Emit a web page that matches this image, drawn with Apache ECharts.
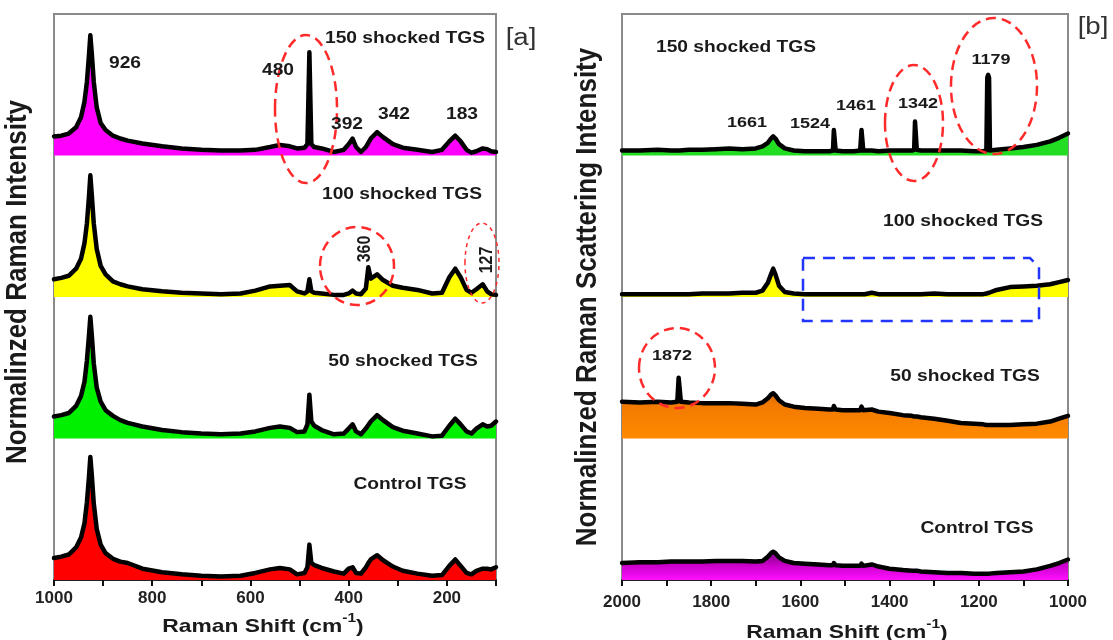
<!DOCTYPE html>
<html><head><meta charset="utf-8">
<script src="https://cdn.jsdelivr.net/npm/echarts@6/dist/echarts.min.js"></script>
<style>html,body{margin:0;padding:0;background:#fff}#c{width:1113px;height:640px}</style>
</head><body><div id="c"></div>
<script>
// ---- Panel [a]: 1000 -> 100 cm-1 ----
const aShift = [1000, 985, 970, 955, 945, 938, 933, 929, 926, 923, 919, 913, 905, 895, 880, 865, 850, 820, 780, 740, 700, 660, 620, 590, 560, 540, 520, 505, 490, 484, 480, 476, 470, 455, 430, 410, 400, 392, 385, 375, 365, 360, 355, 342, 330, 310, 290, 260, 230, 210, 195, 183, 172, 160, 150, 140, 127, 118, 110, 100];
const a150 = [13.5, 14, 15.5, 20, 27, 38, 52, 70, 85, 72, 52, 34, 23, 18, 14, 12, 10.5, 8.5, 6.5, 5, 4, 3.5, 3.5, 4, 6, 7.5, 6.5, 5, 5.5, 8, 73, 8, 6, 5, 2.5, 4, 8, 12, 6, 2.5, 6, 9, 12, 16.5, 13, 8, 5.5, 4, 2.5, 4, 10, 14, 10, 4, 2, 3, 5, 4.5, 3, 2.5];
const a100 = [12.5, 13.5, 15, 20, 27, 38, 52, 70, 86, 72, 52, 34, 22, 16, 11, 9, 7.5, 5.5, 4, 3, 2.5, 2, 2.5, 4.5, 7.5, 8, 8.5, 4, 2.5, 4, 12.5, 4, 3, 2.5, 1.5, 1.5, 2.5, 4.5, 2.5, 2, 6, 21, 13, 16, 12, 8, 6.5, 5, 2.5, 3, 14, 20, 14, 5, 3, 5.5, 9, 4, 2, 1.5];
const a50 = [15.5, 16.5, 18, 23, 30, 40, 55, 72, 86, 73, 53, 36, 26, 20, 16, 13, 11, 8.5, 6, 4.5, 3.5, 3, 3.5, 5, 7.5, 8.5, 7.5, 4.5, 5, 10, 31, 12, 9, 6, 3, 3.5, 7, 10, 5, 3, 7, 9.5, 12, 16.5, 13, 8, 5.5, 3.5, 1.5, 2, 9, 14, 10, 5, 3.5, 7, 10, 8.5, 9, 12];
const aCtrl = [15.5, 16.5, 18, 23, 30, 40, 55, 72, 87, 74, 54, 36, 25, 19, 15, 13, 12, 8, 5.5, 4, 3, 2.5, 3, 5, 7.5, 8.5, 7.5, 4, 5, 9, 25, 12, 10.5, 8.5, 6, 4.5, 8, 9, 5, 4.5, 9, 12, 14.5, 17.5, 14, 9.5, 6.5, 4.5, 3, 3.5, 10, 14.5, 10, 5, 4, 6.5, 8, 8, 7.5, 9];

// ---- Panel [b]: 2000 -> 1000 cm-1 ----
const bShift = [2000, 1960, 1920, 1890, 1876, 1873, 1871, 1868, 1850, 1820, 1790, 1760, 1730, 1700, 1685, 1673, 1666, 1661, 1656, 1648, 1635, 1615, 1590, 1560, 1535, 1527, 1525, 1523, 1521, 1505, 1480, 1466, 1463, 1461, 1459, 1456, 1440, 1425, 1400, 1370, 1350, 1345, 1343, 1341, 1339, 1330, 1300, 1270, 1240, 1210, 1190, 1183, 1181, 1179, 1177, 1175, 1160, 1130, 1100, 1070, 1040, 1020, 1000];
const b150 = [3.5, 3.5, 4, 3.5, 3.5, 3.5, 3.5, 3.5, 4, 4, 4.5, 5, 4.5, 5, 6.5, 9, 12, 13.5, 12, 8, 5, 3.5, 3, 3, 3, 3.5, 18, 18, 3.5, 3, 3, 3.5, 18, 18, 3.5, 3.5, 3.5, 3, 3.5, 3.5, 3.5, 4, 24, 24, 4, 3.5, 3.5, 3.5, 3.5, 3, 3, 3.5, 55, 57, 55, 3.5, 4, 5, 6, 7.5, 10, 12.5, 15.5];
const b100 = [2, 2, 2, 2, 2, 2, 2, 2, 2, 2.5, 2.5, 2.5, 3, 3, 4.5, 10, 16, 20, 16, 8, 3.5, 2.5, 2, 2, 2, 2, 2, 2, 2, 2, 2, 2, 2, 2, 2, 2, 3, 2, 2, 2, 2, 2, 2, 2, 2, 2, 2.5, 2, 2, 2, 2, 2.5, 3, 3, 3, 3.5, 5, 7, 7.5, 8, 9, 10.5, 12];
const b50 = [26, 25.5, 26, 25.5, 26, 43, 43, 26, 25.5, 25, 25, 25, 24.5, 24, 25.5, 28.5, 31, 32, 30.5, 27, 24, 22.5, 21.5, 21, 20.5, 20.5, 23, 23, 20.5, 20, 20, 20, 22.5, 22.5, 20, 20, 20.5, 19, 18, 16.5, 16, 15.5, 15.5, 15.5, 15.5, 15, 14, 12.5, 11, 10.5, 10, 9.5, 9.5, 9.5, 9.5, 9.5, 9.5, 9.5, 10, 10.5, 12, 14, 16];
const bCtrl = [12, 12.5, 12.5, 13, 13, 13, 13, 13, 13, 13, 13.5, 13.5, 13.5, 13, 13.5, 16.5, 19, 20, 19, 16, 13.5, 12, 11.5, 11, 10.5, 10.5, 12, 12, 10.5, 10, 10, 10, 11.5, 11.5, 10, 10, 11, 9.5, 8, 7, 6.5, 6.5, 6.5, 6.5, 6.5, 6, 5.5, 5, 5, 4.5, 4.5, 4.5, 4.5, 4.5, 4.5, 4.5, 5, 5.5, 6, 7.5, 10, 12, 14.5];

const sampleNames = ['150 shocked TGS', '100 shocked TGS', '50 shocked TGS', 'Control TGS'];

const FONT = '"Liberation Sans", Arial, sans-serif';
const TXT = '#1a1a1a';

const panels = [
  { shift: aShift, spectra: [a150, a100, a50, aCtrl], left: 54, width: 442, min: 100, max: 1000, labelMargin: 10,
    fills: ['#ff00ff', '#ffff00', '#00f000', '#ff0000'] },
  { shift: bShift, spectra: [b150, b100, b50, bCtrl], left: 622, width: 446, min: 1000, max: 2000, labelMargin: 14,
    fills: ['#22dd22', '#ffff00',
      new echarts.graphic.LinearGradient(0, 0, 0, 1, [{offset: 0, color: '#b05200'}, {offset: 0.45, color: '#f27a00'}, {offset: 1, color: '#ff8a00'}]),
      new echarts.graphic.LinearGradient(0, 0, 0, 1, [{offset: 0, color: '#7a007a'}, {offset: 0.5, color: '#cc00cc'}, {offset: 1, color: '#ff10ff'}])] }
];
const tops = [14, 155.5, 297, 438.5];
const H = 141.5;

const grid = [], xAxis = [], yAxis = [], series = [];
panels.forEach((p, pi) => {
  p.spectra.forEach((vals, si) => {
    const idx = grid.length;
    const bottom = si === 3;
    grid.push({ left: p.left, width: p.width, top: tops[si], height: H, containLabel: false });
    xAxis.push({
      gridIndex: idx, type: 'value', inverse: true, min: p.min, max: p.max, interval: 100,
      show: bottom,
      axisLine: { show: true, onZero: false, lineStyle: { color: '#222', width: 2 } },
      axisTick: { show: true, inside: false, length: 6, lineStyle: { color: '#111', width: 2 } },
      axisLabel: { show: true, margin: p.labelMargin, fontSize: 17, fontWeight: 'bold', color: '#222', fontFamily: FONT,
        formatter: v => (v % 200 === 0 ? String(v) : '') },
      splitLine: { show: false }
    });
    yAxis.push({ gridIndex: idx, type: 'value', min: 0, max: 100, show: false });
    series.push({
      type: 'line', name: sampleNames[si], xAxisIndex: idx, yAxisIndex: idx,
      data: p.shift.map((x, k) => [x, vals[k]]),
      showSymbol: false, symbol: 'none', clip: false, silent: true,
      lineStyle: { color: '#000', width: 4.5, join: 'round', cap: 'round' },
      areaStyle: { color: p.fills[si], opacity: 1 }
    });
  });
});

function txt(text, x, y, size, opts) {
  opts = opts || {};
  return {
    type: 'text', x: x, y: y, z: 100,
    scaleX: opts.scaleX !== undefined ? opts.scaleX : 1.2,
    scaleY: opts.scaleY !== undefined ? opts.scaleY : 1,
    rotation: opts.rotation || 0,
    style: { text: text, fill: opts.color || TXT, fontSize: size, fontWeight: opts.weight || 'bold', fontFamily: FONT,
      align: 'center', verticalAlign: 'middle', rich: opts.rich }
  };
}
function ell(cx, cy, rx, ry, thin) {
  return { type: 'ellipse', z: 90, shape: { cx: cx, cy: cy, rx: rx, ry: ry },
    style: { fill: 'rgba(0,0,0,0)', stroke: '#ff2b2b', lineWidth: thin ? 1.5 : 2.5, lineDash: thin ? [4, 4] : [10, 6] } };
}
const titleRich = {
  n: { fontSize: 19, fontWeight: 'bold', fontFamily: FONT, fill: TXT, verticalAlign: 'bottom', lineHeight: 24 },
  s: { fontSize: 13, fontWeight: 'bold', fontFamily: FONT, fill: TXT, verticalAlign: 'top', lineHeight: 24 }
};

const graphic = [
  // panel frames
  { type: 'rect', z: 0, shape: { x: 54, y: 14, width: 442, height: 566 }, style: { fill: 'rgba(0,0,0,0)', stroke: '#8a8a8a', lineWidth: 2 } },
  { type: 'rect', z: 0, shape: { x: 622, y: 14, width: 446, height: 566 }, style: { fill: 'rgba(0,0,0,0)', stroke: '#8a8a8a', lineWidth: 2 } },
  // panel tags
  txt('[a]', 521, 39, 23, { weight: 'normal', color: '#333' }),
  txt('[b]', 1093, 28, 23, { weight: 'normal', color: '#333' }),
  // panel a labels
  txt(sampleNames[0], 405, 39, 16),
  txt(sampleNames[1], 402, 195, 16),
  txt(sampleNames[2], 403, 362, 16),
  txt(sampleNames[3], 410, 485, 16),
  txt('926', 125, 64, 16),
  txt('480', 278, 71, 16),
  txt('392', 347, 125, 16),
  txt('342', 394, 115, 16),
  txt('183', 462, 115, 16),
  txt('360', 365, 249, 16, { rotation: Math.PI / 2, scaleX: 1, scaleY: 1.2 }),
  txt('127', 487, 260, 16, { rotation: Math.PI / 2, scaleX: 1, scaleY: 1.2 }),
  ell(306, 109, 31, 74), ell(357, 266, 37, 39), ell(482, 263, 17, 40, true),
  // panel b labels
  txt(sampleNames[0], 736, 48, 16),
  txt(sampleNames[1], 963, 222, 16),
  txt(sampleNames[2], 965, 377, 16),
  txt(sampleNames[3], 977, 529, 16),
  txt('1661', 747, 123, 15),
  txt('1524', 810, 124, 15),
  txt('1461', 856, 106, 15),
  txt('1342', 918, 104, 15),
  txt('1179', 991, 60, 15),
  txt('1872', 672, 356, 15),
  ell(914, 123, 29, 58), ell(994, 86, 43, 68), ell(677, 368, 38, 40),
  { type: 'polygon', z: 90, shape: { points: [[803, 258], [1030, 258], [1039, 267], [1039, 321], [803, 321]] },
    style: { fill: 'rgba(0,0,0,0)', stroke: '#2235ff', lineWidth: 2.5, lineDash: [12, 8] } },
  // axis titles
  txt('Normalinzed Raman Intensity', 18, 282, 26, { rotation: Math.PI / 2, scaleX: 1, scaleY: 1.12 }),
  txt('Normalinzed Raman Scattering Intensity', 588, 297, 26, { rotation: Math.PI / 2, scaleX: 1, scaleY: 1.12 }),
  txt('{n|Raman Shift (cm}{s|-1}{n|)}', 263, 624, 19, { rich: titleRich }),
  txt('{n|Raman Shift (cm}{s|-1}{n|)}', 847, 630, 19, { rich: titleRich })
];

const chart = echarts.init(document.getElementById('c'), null, { renderer: 'canvas' });
chart.setOption({
  animation: false,
  backgroundColor: '#ffffff',
  grid: grid, xAxis: xAxis, yAxis: yAxis, series: series, graphic: graphic
});
</script>
</body></html>
